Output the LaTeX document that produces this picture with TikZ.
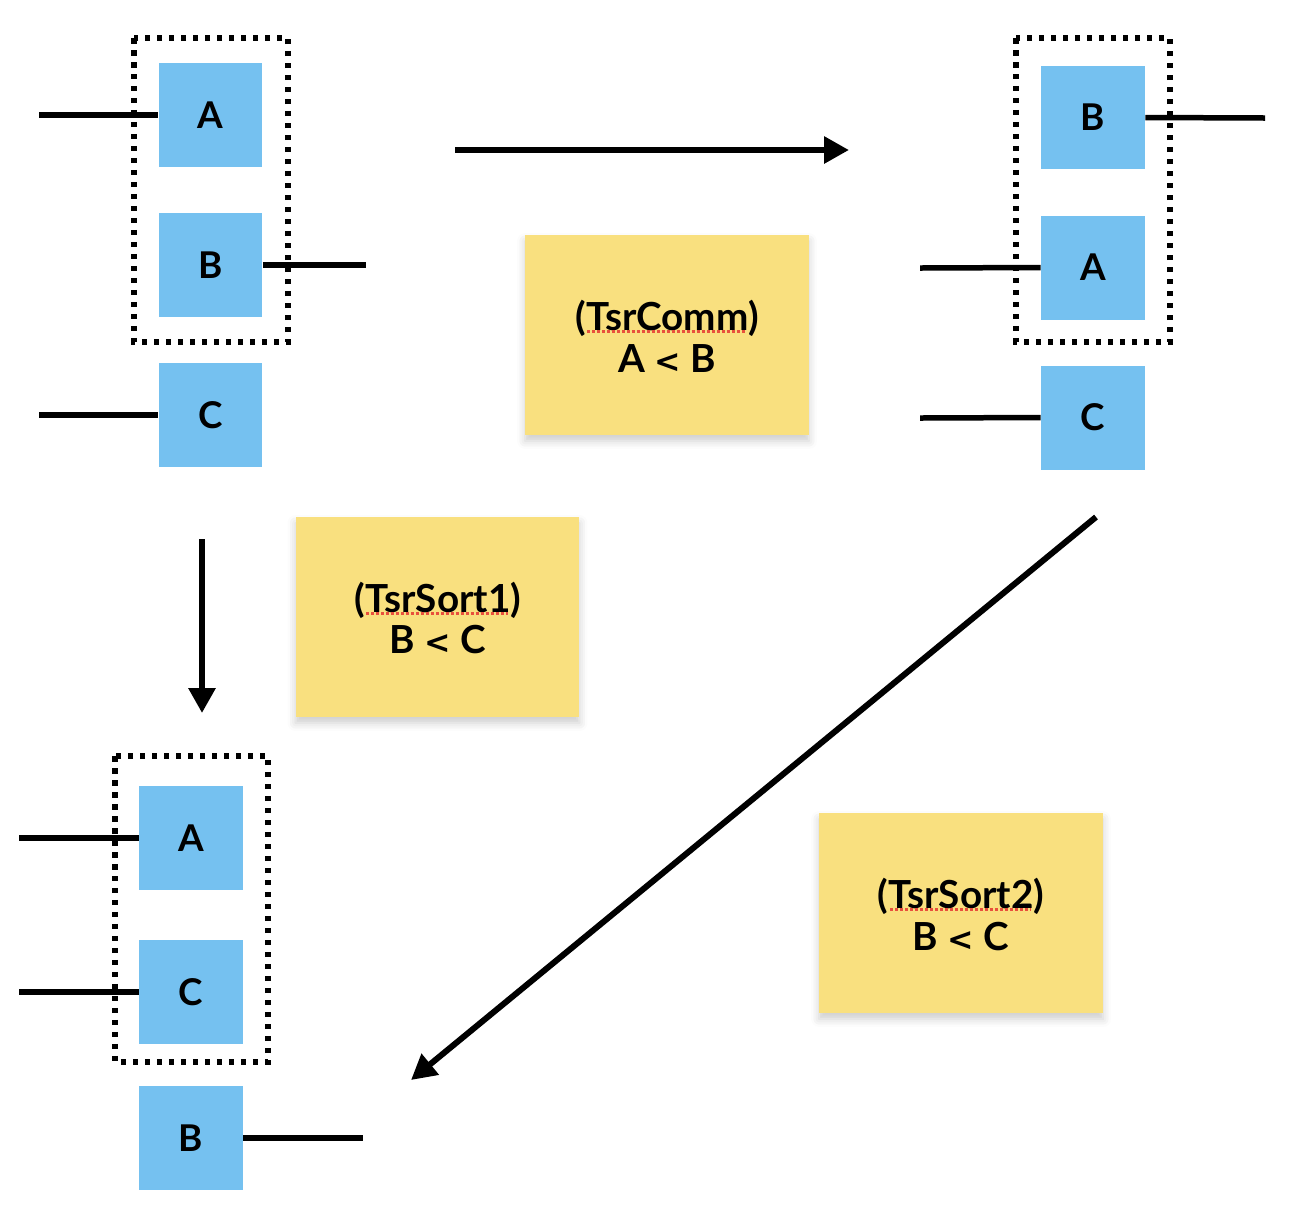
\documentclass[tikz,border=0pt]{standalone}
\usepackage{fontspec}
\setmainfont{Lato}
\newfontfamily\relfont{DejaVu Sans}
\newcommand{\lessrel}{{\relfont\bfseries\fontsize{18}{22}\selectfont<}}
\usetikzlibrary{arrows.meta,shadows.blur}
\definecolor{tileblue}{RGB}{117,193,240}
\definecolor{noteyellow}{RGB}{249,224,127}
\definecolor{spellred}{RGB}{232,80,60}
\begin{document}
\begin{tikzpicture}[x=0.02cm,y=-0.02cm,
  tile/.style={fill=tileblue,draw=none,minimum width=2.08cm,minimum height=2.08cm,
    inner sep=0pt,font=\fontsize{21}{22}\selectfont\bfseries},
  group/.style={draw=black,line width=0.11cm,dash pattern=on 0.11cm off 0.13cm},
  wire/.style={draw=black,line width=0.11cm},
  flow/.style={draw=black,line width=0.12cm,-{Triangle[length=0.5cm,width=0.52cm]}},
  note/.style={fill=noteyellow,draw=none,minimum width=5.68cm,minimum height=4cm,inner sep=0pt,
    blur shadow={shadow xshift=0pt,shadow yshift=-0.12cm,shadow blur radius=0.16cm,shadow opacity=20}},
  notetext/.style={font=\fontsize{22}{25}\selectfont\bfseries,align=center,inner sep=0pt},
  squiggle/.style={draw=spellred,line width=0.06cm,dash pattern=on 0.06cm off 0.04cm}]
  \useasboundingbox (0,0) rectangle (1310,1228);

  % ---- upper left: A, B grouped, then C
  \draw[group] (134,38) rectangle (288,342);
  \node[tile] (a1) at (210.5,115) {A};
  \node[tile] (b1) at (210.5,265) {B};
  \node[tile] (c1) at (210.5,415) {C};
  \coordinate (a1in) at (39,115);
  \coordinate (b1out) at (366,265);
  \coordinate (c1in) at (39,415);
  \draw[wire] (a1in) -- (a1.west);
  \draw[wire] (b1.east) -- (b1out);
  \draw[wire] (c1in) -- (c1.west);

  % ---- upper right: B, A grouped, then C
  \draw[group] (1016,38) rectangle (1170,342);
  \node[tile] (b2) at (1093,117.5) {B};
  \node[tile] (a2) at (1093,267.5) {A};
  \node[tile] (c2) at (1093,417.5) {C};
  \coordinate (b2out) at (1265,118);
  \coordinate (a2in) at (920,268);
  \coordinate (c2in) at (920,418);
  \draw[wire] (b2.east) -- (b2out);
  \draw[wire] (a2in) -- (a2.west);
  \draw[wire] (c2in) -- (c2.west);

  % ---- lower left: A, C grouped, then B
  \draw[group] (115,756) rectangle (268,1062);
  \node[tile] (a3) at (191,838) {A};
  \node[tile] (c3) at (191,992) {C};
  \node[tile] (b3) at (191,1138) {B};
  \coordinate (a3in) at (19,838);
  \coordinate (c3in) at (19,992);
  \coordinate (b3out) at (363,1138);
  \draw[wire] (a3in) -- (a3.west);
  \draw[wire] (c3in) -- (c3.west);
  \draw[wire] (b3.east) -- (b3out);

  % ---- rewrite steps
  \coordinate (s1) at (455,150);  \coordinate (e1) at (849,150);
  \coordinate (s2) at (202,539);  \coordinate (e2) at (202,713);
  \coordinate (s3) at (1096,517); \coordinate (e3) at (411,1080);
  \draw[flow] (s1) -- (e1);
  \draw[flow] (s2) -- (e2);
  \draw[flow] (s3) -- (e3);

  % ---- rule notes
  \node[note] (n1) at (667,335) {};
  \node[notetext] (t1) at (667,336) {(TsrComm)\\[-0.04cm]A \lessrel{} B};
  \draw[squiggle] (587,331) -- (745,331);

  \node[note] (n2) at (437.5,617) {};
  \node[notetext] (t2) at (438,618) {(TsrSort1)\\[-0.04cm]B \lessrel{} C};
  \draw[squiggle] (366,613) -- (508,613);

  \node[note] (n3) at (961,913) {};
  \node[notetext] (t3) at (961,914) {(TsrSort2)\\[-0.04cm]B \lessrel{} C};
  \draw[squiggle] (890,909) -- (1031,909);
\end{tikzpicture}
\end{document}
